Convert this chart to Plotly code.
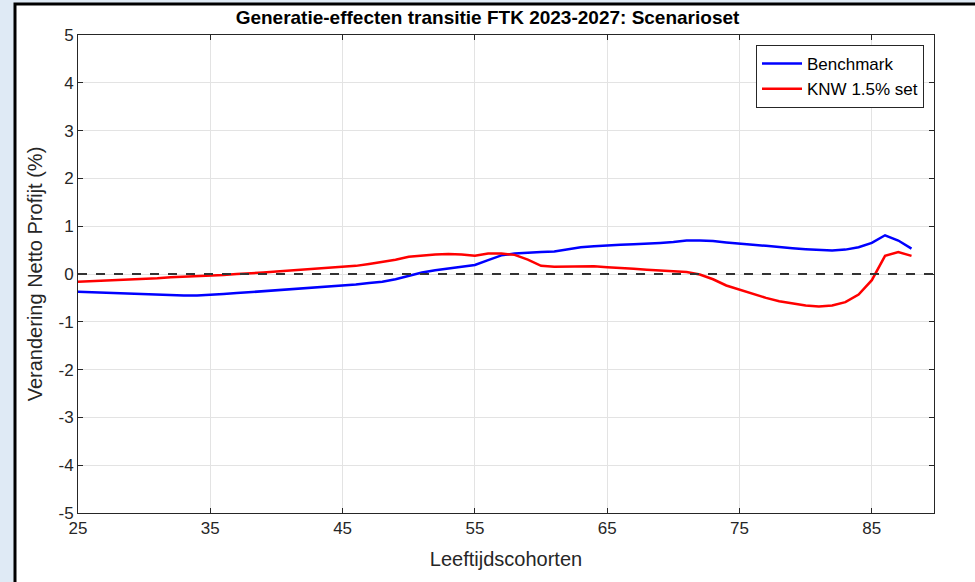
import plotly.graph_objects as go

cohorts = list(range(25, 89))

benchmark = [
    -0.37, -0.38, -0.40, -0.41, -0.42, -0.43, -0.44, -0.45, -0.45, -0.45,
    -0.44, -0.42, -0.40, -0.38, -0.36, -0.34, -0.33, -0.31, -0.29, -0.27,
    -0.25, -0.22, -0.19, -0.16, -0.11, -0.04, 0.03, 0.08, 0.12, 0.15,
    0.19, 0.29, 0.39, 0.43, 0.45, 0.46, 0.47, 0.52, 0.56, 0.58,
    0.60, 0.61, 0.62, 0.63, 0.65, 0.67, 0.70, 0.70, 0.69, 0.66,
    0.63, 0.61, 0.59, 0.56, 0.54, 0.52, 0.50, 0.49, 0.51, 0.56,
    0.65, 0.81, 0.70, 0.53,
]

knw = [
    -0.16, -0.15, -0.14, -0.13, -0.12, -0.11, -0.09, -0.07, -0.06, -0.04,
    -0.03, -0.02, 0.00, 0.01, 0.03, 0.05, 0.07, 0.09, 0.11, 0.14,
    0.16, 0.17, 0.21, 0.25, 0.30, 0.36, 0.39, 0.41, 0.42, 0.41,
    0.38, 0.43, 0.43, 0.40, 0.30, 0.17, 0.15, 0.15, 0.16, 0.16,
    0.14, 0.13, 0.11, 0.09, 0.07, 0.05, 0.04, -0.01, -0.11, -0.24,
    -0.33, -0.42, -0.50, -0.57, -0.62, -0.66, -0.68, -0.66, -0.59, -0.43,
    -0.13, 0.38, 0.46, 0.38,
]

series_names = ["Benchmark", "KNW 1.5% set"]
series_colors = ["#0000ff", "#ff0000"]
x_ticks = [25, 35, 45, 55, 65, 75, 85]
y_ticks = [-5, -4, -3, -2, -1, 0, 1, 2, 3, 4, 5]

W, H = 975, 582
L, R, T, B = 78, 41, 35, 69
pw, ph = W - L - R, H - T - B

def px_x(p):
    return (p - L) / pw

def px_y(p):
    return (H - B - p) / ph

fig = go.Figure()
for name, vals, col in zip(series_names, [benchmark, knw], series_colors):
    fig.add_trace(go.Scatter(x=cohorts, y=vals, mode="lines", name=name,
                             line=dict(color=col, width=2.5)))

font_family = "Liberation Sans, Arial, sans-serif"
axis_common = dict(
    showline=True, linecolor="#262626", linewidth=1, mirror="ticks",
    ticks="inside", ticklen=5, tickcolor="#262626",
    showgrid=True, gridcolor="#e3e3e3", gridwidth=1, zeroline=False,
    tickfont=dict(family=font_family, size=17, color="#262626"),
)

fig.update_layout(
    width=W, height=H,
    margin=dict(l=L, r=R, t=T, b=B),
    paper_bgcolor="#dfeaf5",
    plot_bgcolor="white",
    title=dict(text="<b>Generatie-effecten transitie FTK 2023-2027: Scenarioset</b>",
               x=px_x(L + pw / 2), xanchor="center", y=1 - 17 / H, yanchor="middle",
               font=dict(family=font_family, size=19, color="black")),
    xaxis=dict(range=[25, 89.7], tickvals=x_ticks, ticktext=[str(v) for v in x_ticks],
               title=dict(text="Leeftijdscohorten", standoff=14,
                          font=dict(family=font_family, size=20, color="#262626")),
               **axis_common),
    yaxis=dict(range=[-5, 5], tickvals=y_ticks, ticktext=[str(v) for v in y_ticks],
               title=dict(text="Verandering Netto Profijt (%)", standoff=10,
                          font=dict(family=font_family, size=20, color="#262626")),
               **axis_common),
    legend=dict(x=px_x(924), xanchor="right", y=px_y(45), yanchor="top",
                bgcolor="white", bordercolor="#262626", borderwidth=1,
                font=dict(family=font_family, size=17, color="black"),
                tracegroupgap=0, itemwidth=40),
    shapes=[
        dict(type="rect", xref="paper", yref="paper", layer="below",
             x0=px_x(15), x1=px_x(W + 5), y0=px_y(H + 5), y1=px_y(4),
             fillcolor="white", line=dict(color="black", width=3)),
        dict(type="line", xref="paper", yref="y", x0=0, x1=1, y0=0, y1=0,
             line=dict(color="#333333", width=1.8, dash="dash")),
    ],
)

fig.write_html("out.html", config={"displayModeBar": False},
               post_script="document.body.style.margin='0';document.body.style.padding='0';")
